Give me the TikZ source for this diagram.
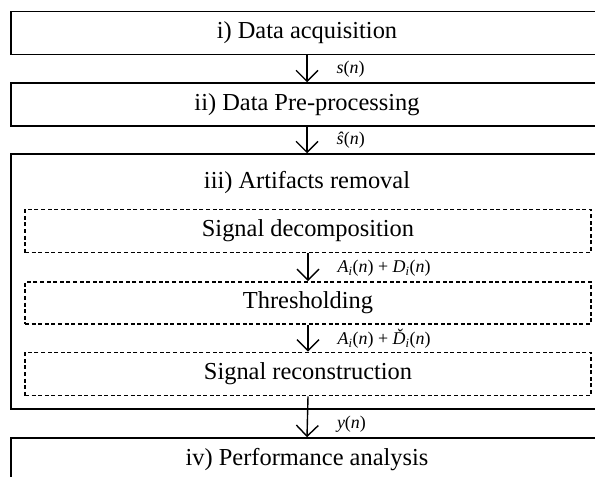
\documentclass[tikz,border=0pt]{standalone}
\usepackage{fontspec}
\setmainfont{Liberation Serif}
\usetikzlibrary{arrows.meta}

\begin{document}
\begin{tikzpicture}[x=1bp, y=-1bp,
  stage/.style={draw, line width=1.5bp, minimum width=592bp, minimum height=43bp, inner sep=0pt,
    font=\fontsize{24.5}{28}\selectfont},
  substage/.style={draw, line width=1.7bp, dash pattern=on 4bp off 2.6bp, minimum width=566bp,
    minimum height=43bp, inner sep=0pt, font=\fontsize{24.5}{28}\selectfont},
  flow/.style={line width=1.4bp, -{Straight Barb[length=11bp, width=22bp, line width=1.4bp]}},
  sig/.style={anchor=west, inner sep=0pt, xshift=29bp, font=\fontsize{18}{21}\selectfont}]
  \useasboundingbox (0,0) rectangle (595,477);
  % main stages
  \draw (307,33) node[stage] (acq) {i) Data acquisition};
  \draw (307,104.5) node[stage] (pre) {ii) Data Pre-processing};
  \draw (307,281.5) node[stage, minimum height=255bp] (rem) {};
  \draw (307,183) node[font=\fontsize{24.5}{28}\selectfont] (remtitle) {iii) Artifacts removal};
  \draw (307,459.5) node[stage] (perf) {iv) Performance analysis};
  % inside the removal stage
  \draw (308,231) node[substage] (dec) {Signal decomposition};
  \draw (308,303) node[substage, minimum height=42bp] (thr) {Thresholding};
  \draw (308,374) node[substage] (rec) {Signal reconstruction};
  % signals between stages
  \draw[flow] (acq.south) -- node[sig] {\textit{s}(\textit{n})} (pre.north);
  \draw[flow] (pre.south) -- node[sig] {\textit{ŝ}(\textit{n})} (rem.north);
  \draw[flow] (dec.south) -- node[sig, pos=0.55] {\textit{A\textsubscript{i}}(\textit{n}) + \textit{D\textsubscript{i}}(\textit{n})} (thr.north);
  \draw[flow] (thr.south) -- node[sig, pos=0.52] {\textit{A\textsubscript{i}}(\textit{n}) + \textit{Ď\textsubscript{i}}(\textit{n})} (rec.north);
  \draw[flow] (rec.south) -- node[sig, pos=0.68] {\textit{y}(\textit{n})} (perf.north);
\end{tikzpicture}
\end{document}
